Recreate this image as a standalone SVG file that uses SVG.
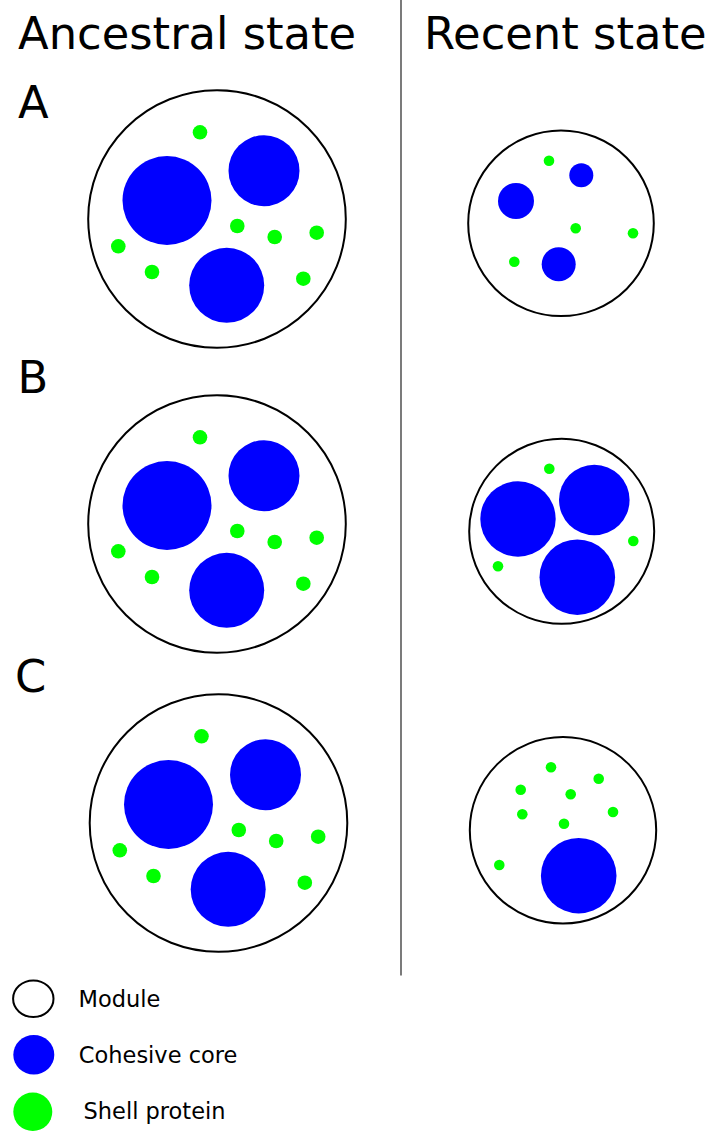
<svg xmlns="http://www.w3.org/2000/svg" xmlns:xlink="http://www.w3.org/1999/xlink" width="713" height="1131" viewBox="0 0 713 1131">
  <style>
    .title { font-family: "DejaVu Sans", "Liberation Sans", sans-serif; font-size: 44.8px; fill: #000; }
    .legend-text { font-family: "DejaVu Sans", "Liberation Sans", sans-serif; font-size: 22.5px; fill: #000; }
    .module { fill: #fff; stroke: #000; stroke-width: 2; }
    .core { fill: #0000ff; }
    .shell { fill: #00ff00; }
    .divider { stroke: #333; stroke-width: 1.3; fill: none; }
  </style>
  <defs>
    <!-- ancestral module: three cohesive cores with shell proteins around them -->
    <g id="ancestral-module">
      <circle class="module" cx="217" cy="219" r="128.8"/>
      <circle class="core" cx="167" cy="200.5" r="44.5"/>
      <circle class="core" cx="264" cy="170.7" r="35.5"/>
      <circle class="core" cx="226.7" cy="285.3" r="37.5"/>
      <circle class="shell" cx="200" cy="132.3" r="7.3"/>
      <circle class="shell" cx="237.3" cy="226" r="7.3"/>
      <circle class="shell" cx="274.7" cy="237" r="7.3"/>
      <circle class="shell" cx="316.7" cy="232.7" r="7.3"/>
      <circle class="shell" cx="118.3" cy="246.3" r="7.3"/>
      <circle class="shell" cx="152" cy="272" r="7.3"/>
      <circle class="shell" cx="303.3" cy="278.7" r="7.3"/>
    </g>
  </defs>

  <rect width="713" height="1131" fill="#fff"/>

  <!-- column headings and row labels -->
  <g id="headings">
    <text class="title" x="18" y="48.5">Ancestral state</text>
    <text class="title" x="424" y="48.5">Recent state</text>
    <text class="title" x="18" y="118">A</text>
    <text class="title" x="17.5" y="393">B</text>
    <text class="title" x="15" y="691.5">C</text>
  </g>

  <!-- separator between the two columns -->
  <g id="connectors">
    <line class="divider" x1="401" y1="0" x2="401" y2="975.5"/>
  </g>

  <!-- row A -->
  <g id="ancestral-a">
    <use xlink:href="#ancestral-module" href="#ancestral-module"/>
  </g>
  <g id="recent-a">
    <circle class="module" cx="561" cy="223.3" r="92.8"/>
    <circle class="core" cx="516" cy="201" r="18"/>
    <circle class="core" cx="581.3" cy="175.3" r="12"/>
    <circle class="core" cx="558.7" cy="264.3" r="17"/>
    <circle class="shell" cx="549" cy="160.7" r="5.3"/>
    <circle class="shell" cx="575.7" cy="228.3" r="5.3"/>
    <circle class="shell" cx="633" cy="233.3" r="5.3"/>
    <circle class="shell" cx="514.3" cy="261.7" r="5.3"/>
  </g>

  <!-- row B -->
  <g id="ancestral-b">
    <use xlink:href="#ancestral-module" href="#ancestral-module" transform="translate(0,305)"/>
  </g>
  <g id="recent-b">
    <circle class="module" cx="561.7" cy="531.3" r="92.5"/>
    <circle class="core" cx="518" cy="519" r="37.7"/>
    <circle class="core" cx="594.3" cy="500" r="35.3"/>
    <circle class="core" cx="577.3" cy="577.2" r="37.8"/>
    <circle class="shell" cx="549.3" cy="468.7" r="5.3"/>
    <circle class="shell" cx="633.3" cy="541" r="5.3"/>
    <circle class="shell" cx="498" cy="566.3" r="5.3"/>
  </g>

  <!-- row C -->
  <g id="ancestral-c">
    <use xlink:href="#ancestral-module" href="#ancestral-module" transform="translate(1.5,604)"/>
  </g>
  <g id="recent-c">
    <circle class="module" cx="563" cy="830.3" r="93.2"/>
    <circle class="core" cx="578.7" cy="875.7" r="37.8"/>
    <circle class="shell" cx="551" cy="767.3" r="5.3"/>
    <circle class="shell" cx="598.7" cy="778.7" r="5.3"/>
    <circle class="shell" cx="520.7" cy="789.7" r="5.3"/>
    <circle class="shell" cx="570.7" cy="794.3" r="5.3"/>
    <circle class="shell" cx="522.3" cy="814.3" r="5.3"/>
    <circle class="shell" cx="613" cy="812" r="5.3"/>
    <circle class="shell" cx="564" cy="823.7" r="5.3"/>
    <circle class="shell" cx="499.3" cy="865" r="5.3"/>
  </g>

  <!-- legend -->
  <g id="legend-module">
    <ellipse class="module" cx="33.3" cy="998.7" rx="20.2" ry="18.3"/>
    <text class="legend-text" x="78.5" y="1007.3">Module</text>
  </g>
  <g id="legend-core">
    <ellipse class="core" cx="33.8" cy="1054.7" rx="20.5" ry="19.7"/>
    <text class="legend-text" x="78.8" y="1062.7">Cohesive core</text>
  </g>
  <g id="legend-shell">
    <ellipse class="shell" cx="32.8" cy="1111.8" rx="19.5" ry="19.2"/>
    <text class="legend-text" x="83.5" y="1119.3">Shell protein</text>
  </g>
</svg>
